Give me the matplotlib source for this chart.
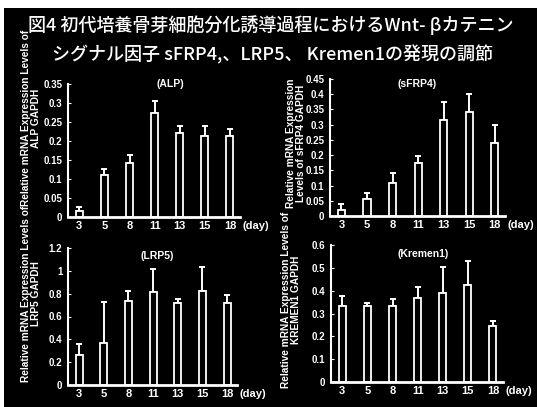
import matplotlib.pyplot as plt
from matplotlib.patches import Rectangle

# 培養日数
days = ['3', '5', '8', '11', '13', '15', '18']

# 各遺伝子の相対発現量 (平均) と誤差
alp_mean = [0.017, 0.110, 0.141, 0.275, 0.220, 0.213, 0.213]
alp_err = [0.009, 0.016, 0.022, 0.029, 0.020, 0.027, 0.019]

sfrp4_mean = [0.019, 0.057, 0.107, 0.173, 0.316, 0.341, 0.239]
sfrp4_err = [0.022, 0.017, 0.033, 0.024, 0.057, 0.059, 0.061]

lrp5_mean = [0.264, 0.366, 0.738, 0.814, 0.717, 0.826, 0.717]
lrp5_err = [0.093, 0.357, 0.082, 0.202, 0.038, 0.208, 0.073]

kremen1_mean = [0.332, 0.332, 0.332, 0.366, 0.388, 0.425, 0.245]
kremen1_err = [0.046, 0.012, 0.030, 0.048, 0.117, 0.106, 0.023]

W, H = 537, 407
plt.rcParams['font.family'] = ['Liberation Sans', 'DejaVu Sans']
fig = plt.figure(figsize=(W / 100, H / 100), dpi=100, facecolor='white')
# 黒い背景 (上と左に白い余白)
fig.patches.append(Rectangle((4 / W, 0), 1, 1 - 8 / H, transform=fig.transFigure,
                             facecolor='black', edgecolor='none', zorder=-10))


def box(l, t, r, b):
    """ピクセル座標 -> figure 座標"""
    return [l / W, 1 - b / H, (r - l) / W, (b - t) / H]


def px(x, y):
    return x / W, 1 - y / H


# 全体のタイトル
jp = ['Noto Sans CJK JP', 'DejaVu Sans']
fig.text(*px(271, 25), '図4 初代培養骨芽細胞分化誘導過程におけるWnt- βカテニン',
         color='white', fontsize=13, family=jp, fontweight='medium', ha='center', va='center')
fig.text(*px(273, 55), 'シグナル因子 sFRP4,、LRP5、 Kremen1の発現の調節',
         color='white', fontsize=13, family=jp, fontweight='medium', ha='center', va='center')

panels = [
    (alp_mean, alp_err, 0.35, 0.05, '(ALP)', (170, 84),
     'Relative mRNA Expression Levels of\nALP GAPDH', (31, 118), box(68, 84, 240, 217)),
    (sfrp4_mean, sfrp4_err, 0.45, 0.05, '(sFRP4)', (417, 84),
     'Relative mRNA Expression\nLevels of sFRP4 GAPDH', (296, 143), box(330, 79, 505, 216)),
    (lrp5_mean, lrp5_err, 1.2, 0.2, '(LRP5)', (157, 256),
     'Relative mRNA Expression Levels of\nLRP5 GAPDH', (31, 294), box(68, 248, 237, 385)),
    (kremen1_mean, kremen1_err, 0.6, 0.1, '(Kremen1)', (423, 254),
     'Relative mRNA Expression Levels of\nKREMEN1 GAPDH', (291, 300), box(331, 245, 503, 382)),
]

for mean, err, ymax, step, name, name_pos, ylab, ylab_pos, rect in panels:
    ax = fig.add_axes(rect)
    ax.set_facecolor('none')
    x = range(len(days))
    ax.bar(x, mean, width=0.28, color='black', edgecolor='white', linewidth=1.3, zorder=2)
    ax.errorbar(x, mean, yerr=[[0] * len(err), err], fmt='none', ecolor='white',
                elinewidth=1.4, capsize=2, capthick=1.4, zorder=1)

    ax.set_xlim(-0.45, 6.4)
    ax.set_ylim(0, ymax)
    n = int(round(ymax / step))
    ticks = [i * step for i in range(n + 1)]
    ax.set_yticks(ticks)
    ax.set_yticklabels(['{:g}'.format(round(t, 2)) for t in ticks])
    ax.set_xticks(list(x))
    ax.set_xticklabels(days)

    for s in ['top', 'right']:
        ax.spines[s].set_visible(False)
    ax.spines['left'].set_color('white')
    ax.spines['left'].set_linewidth(1.5)
    ax.spines['bottom'].set_color('white')
    ax.spines['bottom'].set_linewidth(2)

    ax.tick_params(axis='x', length=0, pad=3, colors='white', labelsize=8)
    ax.tick_params(axis='y', length=2, direction='in', pad=4, colors='white', labelsize=7)
    for lab in ax.get_xticklabels() + ax.get_yticklabels():
        lab.set_fontweight('bold')

    ax.annotate('(day)', xy=(1, 0), xycoords='axes fraction', xytext=(2, -3),
                textcoords='offset points', ha='left', va='top', color='white',
                fontsize=8, fontweight='bold')

    fig.text(*px(*name_pos), name, color='white', fontsize=7.5, fontweight='bold',
             ha='center', va='center')
    fig.text(*px(*ylab_pos), ylab, color='white', fontsize=7.3, fontweight='bold',
             rotation=90, ha='center', va='center', multialignment='center',
             linespacing=1.0)

fig.savefig('out.png', dpi=100, facecolor=fig.get_facecolor())
